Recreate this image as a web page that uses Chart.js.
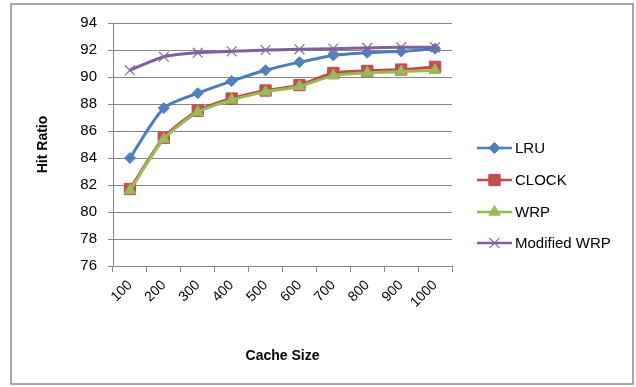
<!DOCTYPE html>
<html>
<head>
<meta charset="utf-8">
<script src="https://cdn.jsdelivr.net/npm/chart.js@4.4.1/dist/chart.umd.min.js"></script>
<style>
  html, body { margin: 0; padding: 0; background: #fff; }
  #wrap { width: 636px; height: 387px; }
</style>
</head>
<body>
<div id="wrap"><canvas id="chart" width="636" height="387"></canvas></div>
<script>
// Cache sizes on the x axis
const cacheSizes = ['100', '200', '300', '400', '500', '600', '700', '800', '900', '1000'];

// Hit ratio per replacement policy
const lruHits      = [84.0, 87.7, 88.8, 89.7, 90.5, 91.1, 91.6, 91.8, 91.9, 92.1];
const clockHits    = [81.7, 85.5, 87.5, 88.4, 89.0, 89.4, 90.3, 90.45, 90.55, 90.75];
const wrpHits      = [81.6, 85.4, 87.4, 88.3, 88.9, 89.3, 90.1, 90.3, 90.4, 90.5];
const modWrpHits   = [90.5, 91.5, 91.8, 91.9, 92.0, 92.05, 92.1, 92.15, 92.2, 92.2];

const seriesNames = ['LRU', 'CLOCK', 'WRP', 'Modified WRP'];

// y axis range and step
const yMin = 76, yMax = 94, yStep = 2;

const FONT = "'Liberation Sans', Arial, sans-serif";

// Outer frame around the whole chart
const framePlugin = {
  id: 'frame',
  beforeDraw(chart) {
    const ctx = chart.ctx;
    ctx.save();
    ctx.fillStyle = '#ffffff';
    ctx.fillRect(0, 0, chart.width, chart.height);
    ctx.strokeStyle = '#8a8a8a';
    ctx.lineWidth = 1.5;
    ctx.strokeRect(11, 4, 622, 380);
    ctx.restore();
  }
};

function drawMarker(ctx, style, x, y, r, fill, stroke) {
  ctx.save();
  ctx.fillStyle = fill;
  ctx.strokeStyle = stroke;
  ctx.lineWidth = 1;
  ctx.beginPath();
  if (style === 'rectRot') {
    ctx.moveTo(x, y - r); ctx.lineTo(x + r, y); ctx.lineTo(x, y + r); ctx.lineTo(x - r, y);
    ctx.closePath(); ctx.fill(); ctx.stroke();
  } else if (style === 'rect') {
    const s = r * Math.SQRT1_2;
    ctx.rect(x - s, y - s, 2 * s, 2 * s); ctx.fill(); ctx.stroke();
  } else if (style === 'triangle') {
    ctx.moveTo(x, y - r);
    ctx.lineTo(x + r * Math.sin(Math.PI / 3), y + r / 2);
    ctx.lineTo(x - r * Math.sin(Math.PI / 3), y + r / 2);
    ctx.closePath(); ctx.fill(); ctx.stroke();
  } else if (style === 'crossRot') {
    const d = r * Math.SQRT1_2;
    ctx.lineWidth = 1.2;
    ctx.moveTo(x - d, y - d); ctx.lineTo(x + d, y + d);
    ctx.moveTo(x + d, y - d); ctx.lineTo(x - d, y + d);
    ctx.stroke();
  }
  ctx.restore();
}

// Legend at the right: short line with the series marker, then the name
const sideLegend = {
  id: 'sideLegend',
  afterDraw(chart) {
    const ctx = chart.ctx;
    const x0 = 477, x1 = 512, tx = 515;
    const rows = [148, 180, 212, 243];
    chart.data.datasets.forEach((ds, i) => {
      const y = rows[i];
      ctx.save();
      ctx.strokeStyle = ds.borderColor;
      ctx.lineWidth = 2.5;
      ctx.beginPath();
      ctx.moveTo(x0, y); ctx.lineTo(x1, y);
      ctx.stroke();
      ctx.restore();
      drawMarker(ctx, ds.pointStyle, (x0 + x1) / 2, y, ds.pointRadius,
                 ds.pointBackgroundColor, ds.pointBorderColor);
      ctx.save();
      ctx.fillStyle = '#000';
      ctx.font = '15px ' + FONT;
      ctx.textBaseline = 'middle';
      ctx.textAlign = 'left';
      ctx.fillText(ds.label, tx, y + 1);
      ctx.restore();
    });
  }
};

function series(label, data, line, fill, style, radius, order) {
  return {
    label, data, order,
    borderColor: line,
    borderWidth: 3,
    tension: 0.25,
    pointStyle: style,
    pointRadius: radius,
    pointHoverRadius: radius,
    pointBackgroundColor: fill,
    pointBorderColor: style === 'crossRot' ? fill : line,
    pointBorderWidth: style === 'crossRot' ? 1.2 : 1,
    fill: false
  };
}

new Chart(document.getElementById('chart'), {
  type: 'line',
  data: {
    labels: cacheSizes,
    datasets: [
      series(seriesNames[0], lruHits,    '#4A7EBB', '#4F81BD', 'rectRot', 5.5, 3),
      series(seriesNames[1], clockHits,  '#BE4B48', '#C0504D', 'rect', 8, 2),
      series(seriesNames[2], wrpHits,    '#98B954', '#9BBB59', 'triangle', 6.5, 1),
      series(seriesNames[3], modWrpHits, '#7D60A0', '#8064A2', 'crossRot', 7, 0)
    ]
  },
  options: {
    responsive: false,
    animation: false,
    layout: { padding: { left: 31, top: 23, right: 184, bottom: 18 } },
    plugins: {
      legend: { display: false },
      tooltip: { enabled: false }
    },
    scales: {
      x: {
        type: 'category',
        offset: true,
        afterFit(scale) { scale.height = 103; },
        border: { display: true, color: '#868686', width: 1 },
        grid: {
          offset: true,
          drawOnChartArea: false,
          drawTicks: true,
          tickLength: 6,
          tickColor: '#868686'
        },
        ticks: {
          autoSkip: false,
          minRotation: 45,
          maxRotation: 45,
          padding: 5,
          color: '#000',
          font: { family: FONT, size: 14 }
        },
        title: {
          display: true,
          text: 'Cache Size',
          color: '#000',
          font: { family: FONT, size: 14, weight: 'bold' }
        }
      },
      y: {
        min: yMin,
        max: yMax,
        afterFit(scale) { scale.width = 82; },
        border: { display: true, color: '#868686', width: 1 },
        grid: {
          color: '#868686',
          lineWidth: 1,
          drawTicks: true,
          tickLength: 5,
          tickColor: '#868686'
        },
        ticks: {
          stepSize: yStep,
          padding: 11,
          color: '#000',
          font: { family: FONT, size: 15 }
        },
        title: {
          display: true,
          text: 'Hit Ratio',
          color: '#000',
          font: { family: FONT, size: 14, weight: 'bold' }
        }
      }
    }
  },
  plugins: [framePlugin, sideLegend]
});
</script>
</body>
</html>
